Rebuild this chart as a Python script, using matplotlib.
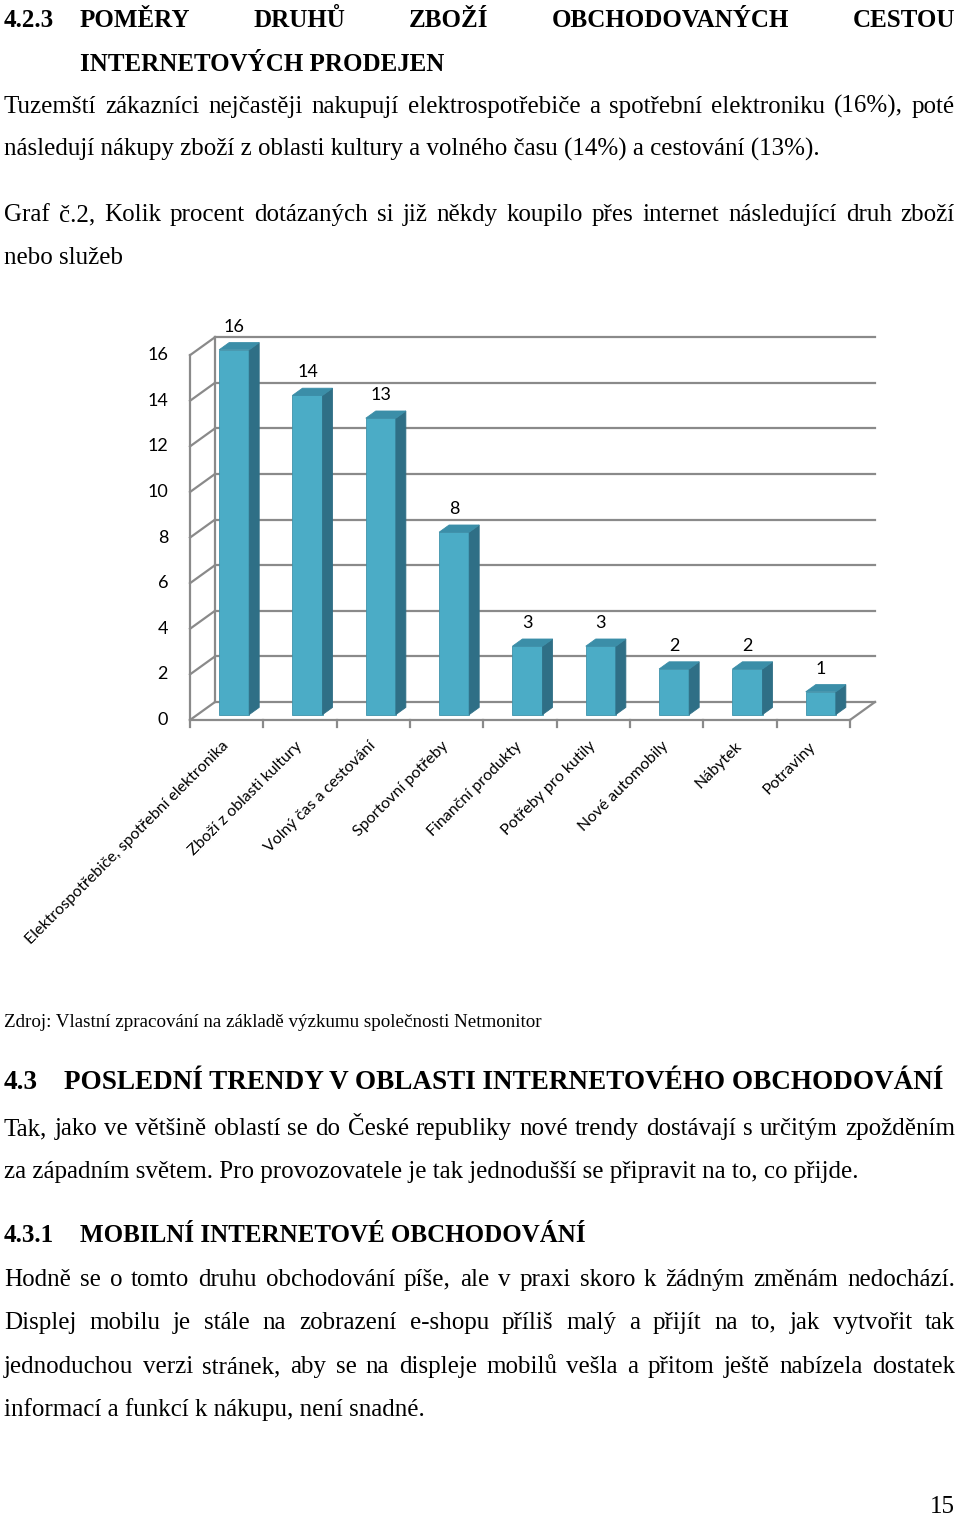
import matplotlib
matplotlib.use("Agg")
import matplotlib.pyplot as plt
from matplotlib.patches import Polygon

# chart data
categories = ["Elektrospotřebiče, spotřební elektronika", "Zboží z oblasti kultury",
              "Volný čas a cestování", "Sportovní potřeby", "Finanční produkty",
              "Potřeby pro kutily", "Nové automobily", "Nábytek", "Potraviny"]
values = [16, 14, 13, 8, 3, 3, 2, 2, 1]
y_ticks = [0, 2, 4, 6, 8, 10, 12, 14, 16]

# page text
heading1_num = "4.2.3"
heading1_a = "POMĚRY DRUHŮ ZBOŽÍ OBCHODOVANÝCH CESTOU"
heading1_b = "INTERNETOVÝCH PRODEJEN"
para1 = ["Tuzemští zákazníci nejčastěji nakupují elektrospotřebiče a spotřební elektroniku (16%), poté",
         "následují nákupy zboží z oblasti kultury a volného času (14%) a cestování (13%)."]
caption = ["Graf č.2, Kolik procent dotázaných si již někdy koupilo přes internet následující druh zboží",
           "nebo služeb"]
source = "Zdroj: Vlastní zpracování na základě výzkumu společnosti Netmonitor"
heading2_num = "4.3"
heading2 = "POSLEDNÍ TRENDY V OBLASTI INTERNETOVÉHO OBCHODOVÁNÍ"
para2 = ["Tak, jako ve většině oblastí se do České republiky nové trendy dostávají s určitým zpožděním",
         "za západním světem. Pro provozovatele je tak jednodušší se připravit na to, co přijde."]
heading3_num = "4.3.1"
heading3 = "MOBILNÍ INTERNETOVÉ OBCHODOVÁNÍ"
para3 = ["Hodně se o tomto druhu obchodování píše, ale v praxi skoro k žádným změnám nedochází.",
         "Displej mobilu je stále na zobrazení e-shopu příliš malý a přijít na to, jak vytvořit tak",
         "jednoduchou verzi stránek, aby se na displeje mobilů vešla a přitom ještě nabízela dostatek",
         "informací a funkcí k nákupu, není snadné."]
page_no = "15"

W, H = 960, 1517
fig = plt.figure(figsize=(W / 100, H / 100), dpi=100)
fig.patch.set_facecolor("white")
renderer = fig.canvas.get_renderer()

SERIF = "Liberation Serif"


def put_line(text, y, x0, x1=None, **kw):
    kw.setdefault("family", SERIF)
    if x1 is None:
        fig.text(x0 / W, 1 - y / H, text, va="baseline", ha="left", **kw)
        return
    words = text.split(" ")
    objs = [fig.text(0, 1 - y / H, w, va="baseline", ha="left", **kw) for w in words]
    widths = [o.get_window_extent(renderer).width for o in objs]
    gap = (x1 - x0 - sum(widths)) / max(len(words) - 1, 1)
    x = x0
    for o, w in zip(objs, widths):
        o.set_x(x / W)
        x += w + gap


BODY = 18
HEAD = 18

put_line(heading1_num, 27, 4, size=HEAD, weight="bold")
put_line(heading1_a, 27, 80, 955, size=HEAD, weight="bold")
put_line(heading1_b, 71, 80, size=HEAD, weight="bold")
put_line(para1[0], 113, 4, 955, size=BODY)
put_line(para1[1], 156, 4, size=BODY)
put_line(caption[0], 221, 4, 955, size=BODY)
put_line(caption[1], 264, 4, size=BODY)
put_line(source, 1027, 4, size=13.7)
put_line(heading2_num, 1089, 4, size=19.5, weight="bold")
put_line(heading2, 1089, 64, size=19.5, weight="bold")
put_line(para2[0], 1135, 4, 955, size=BODY)
put_line(para2[1], 1178, 4, size=BODY)
put_line(heading3_num, 1242, 4, size=HEAD, weight="bold")
put_line(heading3, 1242, 80, size=HEAD, weight="bold")
for k, line in enumerate(para3):
    yy = [1286, 1329, 1373, 1416][k]
    if k < 3:
        put_line(line, yy, 4, 955, size=BODY)
    else:
        put_line(line, yy, 4, size=BODY)
fig.text(955 / W, 1 - 1513 / H, page_no, ha="right", va="baseline", family=SERIF, size=BODY)

# ---- pseudo-3D column chart ----
px_x, px_y = 73.33, 22.8
ax = fig.add_axes([(190 - 0.6 * px_x) / W, (H - 720 - 1.5 * px_y) / H,
                   10.4 * px_x / W, 19 * px_y / H])
ax.set_xlim(-0.6, 9.8)
ax.set_ylim(-1.5, 17.5)
ax.axis("off")

DX, DY = 25 / px_x, 18 / px_y
n = len(categories)
grid_c = "#8a8a8a"
lw = 1.6

for v in y_ticks:
    ax.plot([DX, n + DX], [v + DY, v + DY], color=grid_c, lw=lw, zorder=1)
    ax.plot([0, DX], [v, v + DY], color=grid_c, lw=lw, zorder=1)
    ax.text(-0.3, v, str(v), ha="right", va="center", family="Lato", size=13)
ax.plot([0, 0], [0, y_ticks[-1]], color=grid_c, lw=lw, zorder=1)
ax.plot([DX, DX], [DY, y_ticks[-1] + DY], color=grid_c, lw=lw, zorder=1)
ax.plot([0, n], [0, 0], color=grid_c, lw=lw, zorder=1)
ax.plot([n, n + DX], [0, DY], color=grid_c, lw=lw, zorder=1)
for k in range(n + 1):
    ax.plot([k, k], [0, -0.3], color=grid_c, lw=lw, zorder=1)

bw = 0.41
t0, d = 0.3, 0.4
ox, oy = t0 * DX, t0 * DY
front_c, side_c, top_c = "#4bacc6", "#2f6f86", "#3b8ea8"
xs = [i + 0.5 + ox for i in range(n)]
ax.bar(xs, values, width=bw, bottom=oy, color=front_c, edgecolor="#3f93ab",
       linewidth=0.6, zorder=3)
for x, v in zip(xs, values):
    xl, xr = x - bw / 2, x + bw / 2
    top = v + oy
    side = [(xr, oy), (xr + d * DX, oy + d * DY), (xr + d * DX, top + d * DY), (xr, top)]
    cap = [(xl, top), (xr, top), (xr + d * DX, top + d * DY), (xl + d * DX, top + d * DY)]
    ax.add_patch(Polygon(side, closed=True, facecolor=side_c, edgecolor=side_c, lw=0.6, zorder=3))
    ax.add_patch(Polygon(cap, closed=True, facecolor=top_c, edgecolor=top_c, lw=0.6, zorder=3))
    ax.text(x, v + 0.7 * DY + 0.7, str(v), ha="center", va="center", family="Lato", size=13)

for i, cat in enumerate(categories):
    ax.text(i + 0.5, -1.05, cat, rotation=45, ha="right", va="center",
            rotation_mode="anchor", family="Lato", size=11.5)

fig.savefig("out.png", dpi=100, facecolor="white")
